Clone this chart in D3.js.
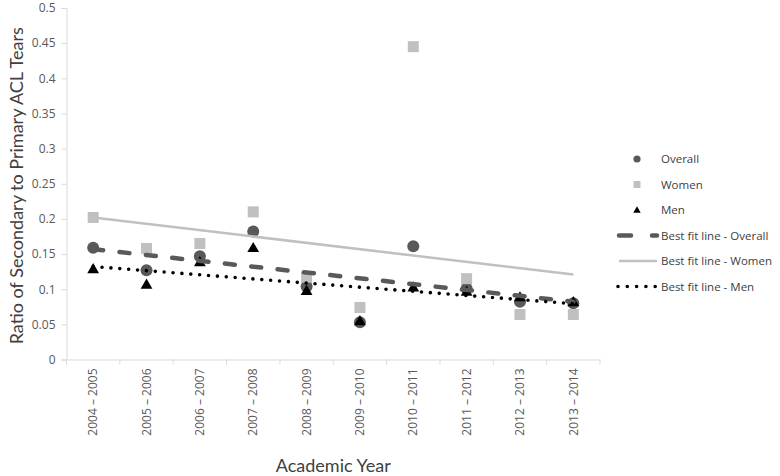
<!DOCTYPE html>
<html>
<head>
<meta charset="utf-8">
<script src="https://cdn.jsdelivr.net/npm/d3@7"></script>
<style>
  body { margin: 0; background: #fff; }
  svg { display: block; }
</style>
</head>
<body>
<svg id="chart" width="780" height="476"></svg>
<script>
// ---- data ----
const categories = ["2004 – 2005","2005 – 2006","2006 – 2007","2007 – 2008","2008 – 2009",
                    "2009 – 2010","2010 – 2011","2011 – 2012","2012 – 2013","2013 – 2014"];
const overall = [0.159, 0.127, 0.147, 0.182, 0.104, 0.053, 0.161, 0.101, 0.082, 0.080];
const women   = [0.202, 0.158, 0.165, 0.210, 0.117, 0.074, 0.445, 0.115, 0.064, 0.064];
const men     = [0.129, 0.107, 0.139, 0.159, 0.098, 0.055, 0.103, 0.097, 0.089, 0.082];
const yTicks  = [0, 0.05, 0.1, 0.15, 0.2, 0.25, 0.3, 0.35, 0.4, 0.45, 0.5];
const seriesNames = ["Overall", "Women", "Men"];
const fitNames = ["Best fit line - Overall", "Best fit line - Women", "Best fit line - Men"];
const yTitle = "Ratio of Secondary to Primary ACL Tears";
const xTitle = "Academic Year";

// ---- layout ----
const svg = d3.select("#chart");
const pLeft = 66.5, pRight = 600, pTop = 8, pBottom = 359.5;
const x = d3.scaleBand().domain(categories).range([pLeft, pRight]).padding(0);
const y = d3.scaleLinear().domain([0, 0.5]).range([pBottom, pTop]);
const cx = c => x(c) + x.bandwidth() / 2;

const axisColor = "#d9d9d9";
const labelColor = "#595959";
const font = "'Open Sans', sans-serif";

// y axis
const gy = svg.append("g").attr("transform", `translate(${pLeft},0)`)
  .call(d3.axisLeft(y).tickValues(yTicks).tickSize(5).tickPadding(6)
        .tickFormat(d => String(+d.toFixed(2))));
gy.select(".domain").attr("stroke", axisColor);
gy.selectAll(".tick line").attr("stroke", axisColor);
gy.selectAll(".tick text").attr("fill", labelColor).style("font-family", font).style("font-size", "12px");

// x axis
const gx = svg.append("g").attr("transform", `translate(0,${pBottom})`)
  .call(d3.axisBottom(x).tickSize(0).tickSizeOuter(0));
gx.select(".domain").attr("stroke", axisColor);
gx.selectAll(".tick text")
  .attr("transform", "rotate(-90)")
  .attr("x", -9).attr("y", 0).attr("dy", "0.35em")
  .attr("text-anchor", "end")
  .attr("fill", labelColor).style("font-family", font).style("font-size", "12px");
// boundary tick marks
const bounds = categories.map(c => x(c)).concat([x.range()[1]]);
svg.append("g").selectAll("line").data(bounds).join("line")
  .attr("x1", d => d).attr("x2", d => d)
  .attr("y1", pBottom).attr("y2", pBottom + 5)
  .attr("stroke", axisColor);

// titles
svg.append("text")
  .attr("transform", `translate(23,${(pTop + pBottom) / 2 + 2}) rotate(-90)`)
  .attr("text-anchor", "middle")
  .attr("fill", "#404040")
  .style("font-family", "Lato, sans-serif").style("font-size", "18px")
  .text(yTitle);
svg.append("text")
  .attr("x", (pLeft + pRight) / 2).attr("y", 472)
  .attr("text-anchor", "middle")
  .attr("fill", "#404040")
  .style("font-family", "Lato, sans-serif").style("font-size", "18px")
  .text(xTitle);

// ---- markers ----
const cOverall = "#595959", cWomen = "#c0c0c0", cMen = "#000000";
const symSquare = d3.symbol().type(d3.symbolSquare).size(121);
const symTri = d3.symbol().type(d3.symbolTriangle).size(60);

svg.append("g").selectAll("circle").data(overall).join("circle")
  .attr("cx", (d, i) => cx(categories[i])).attr("cy", d => y(d))
  .attr("r", 6).attr("fill", cOverall);
svg.append("g").selectAll("path").data(women).join("path")
  .attr("transform", (d, i) => `translate(${cx(categories[i])},${y(d)})`)
  .attr("d", symSquare).attr("fill", cWomen);
svg.append("g").selectAll("path").data(men).join("path")
  .attr("transform", (d, i) => `translate(${cx(categories[i])},${y(d) + 1})`)
  .attr("d", symTri).attr("fill", cMen);

// ---- best-fit lines (least squares over category index) ----
function fit(vals) {
  const n = vals.length, xs = d3.range(n);
  const mx = d3.mean(xs), my = d3.mean(vals);
  const sxy = d3.sum(xs, (v, i) => (v - mx) * (vals[i] - my));
  const sxx = d3.sum(xs, v => (v - mx) ** 2);
  const b = sxy / sxx, a = my - b * mx;
  return [[categories[0], a], [categories[n - 1], a + b * (n - 1)]];
}
const line = d3.line().x(d => cx(d[0])).y(d => y(d[1]));
const styles = [
  { color: cOverall, width: 4.5, dash: "10,16.5", cap: "round" },
  { color: cWomen, width: 2.5, dash: null, cap: "butt" },
  { color: cMen, width: 3.6, dash: "0,8.9", cap: "round" }
];
[overall, women, men].forEach((vals, i) => {
  const s = styles[i];
  svg.append("path").datum(fit(vals)).attr("d", line)
    .attr("fill", "none").attr("stroke", s.color).attr("stroke-width", s.width)
    .attr("stroke-linecap", s.cap).attr("stroke-dasharray", s.dash);
});

// ---- legend ----
const lg = svg.append("g");
const legY = d3.range(6).map(i => 159 + i * 25.5);
const legTextX = 661, legMarkX = 637;
const legLabels = seriesNames.concat(fitNames);
lg.selectAll("text").data(legLabels).join("text")
  .attr("x", legTextX).attr("y", (d, i) => legY[i]).attr("dy", "0.35em")
  .attr("fill", "#404040").style("font-family", font).style("font-size", "11.5px")
  .text(d => d);
lg.append("circle").attr("cx", legMarkX).attr("cy", legY[0]).attr("r", 3.6).attr("fill", cOverall);
lg.append("path").attr("transform", `translate(${legMarkX},${legY[1]})`)
  .attr("d", d3.symbol().type(d3.symbolSquare).size(49)).attr("fill", cWomen);
lg.append("path").attr("transform", `translate(${legMarkX},${legY[2] + 0.5})`)
  .attr("d", d3.symbol().type(d3.symbolTriangle).size(24)).attr("fill", cMen);
styles.forEach((s, i) => {
  lg.append("line")
    .attr("x1", i === 2 ? 618 : 619).attr("x2", i === 2 ? 656 : 657)
    .attr("y1", legY[3 + i]).attr("y2", legY[3 + i])
    .attr("stroke", s.color).attr("stroke-width", s.width)
    .attr("stroke-linecap", s.cap)
    .attr("stroke-dasharray", i === 0 ? "12,21" : (i === 2 ? "0,9.3" : null));
});
</script>
</body>
</html>
